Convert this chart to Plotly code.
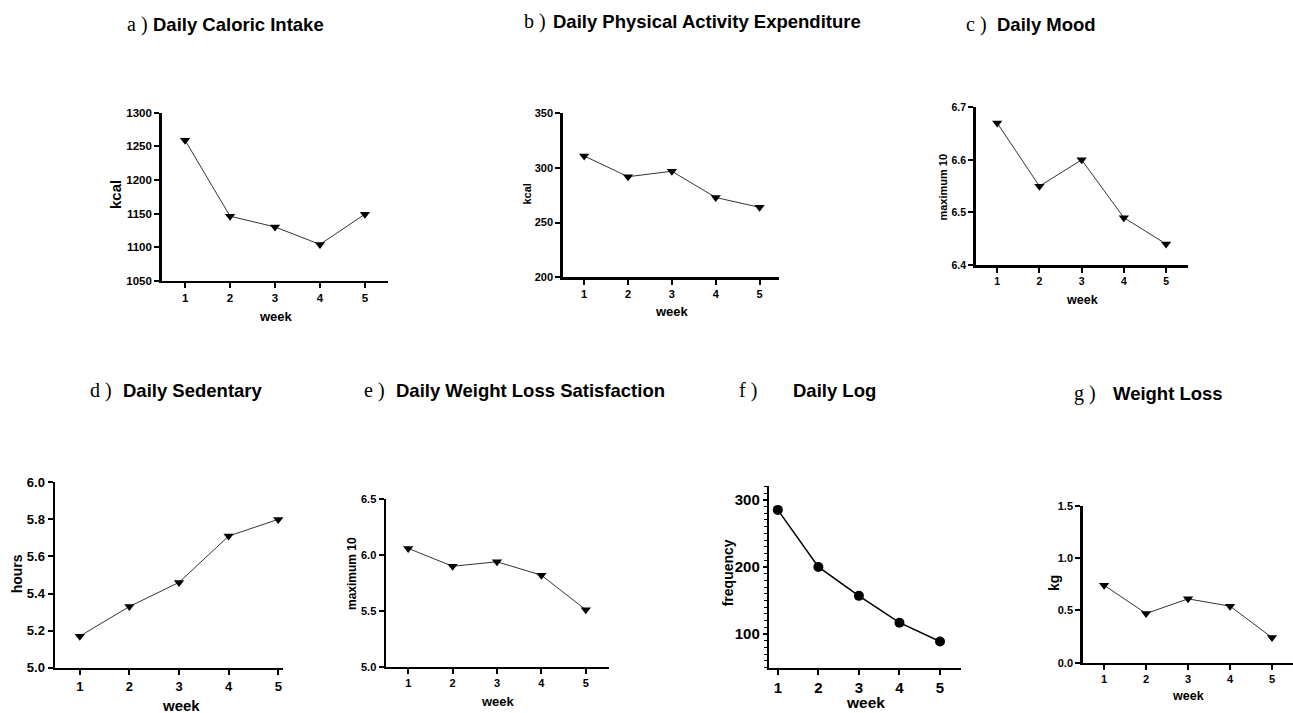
import plotly.graph_objects as go

W, H = 1293, 713

weeks = [1, 2, 3, 4, 5]
caloric_intake = [1259, 1146, 1130, 1104, 1149]
activity_expenditure = [311, 292, 297, 273, 264]
mood = [6.67, 6.55, 6.60, 6.49, 6.44]
sedentary = [5.17, 5.33, 5.46, 5.71, 5.80]
satisfaction = [6.06, 5.90, 5.94, 5.82, 5.51]
log_frequency = [285, 200, 157, 117, 89]
weight_loss = [0.74, 0.47, 0.61, 0.54, 0.24]

letters = ["a )", "b )", "c )", "d )", "e )", "f )", "g )"]
titles = ["Daily Caloric Intake", "Daily Physical Activity Expenditure", "Daily Mood",
          "Daily Sedentary", "Daily Weight Loss Satisfaction", "Daily Log", "Weight Loss"]
y_titles = ["kcal", "kcal", "maximum 10", "hours", "maximum 10", "frequency", "kg"]
x_title = "week"

series = [caloric_intake, activity_expenditure, mood, sedentary, satisfaction, log_frequency, weight_loss]

# panel layout: (x0, x1, ytop, ybottom) in pixels, x range, y range, y dtick, tickformat, tick font size
panels = [
    dict(px=(161.7, 388.3, 112.7, 280.7), xr=[0.48, 5.52], yr=[1050, 1300], dt=50, fmt="d", fs=11.5,
         ytl=(115, 195, 15), xtl=(275.7, 316.7, 13), lt=(125, 151, 24)),
    dict(px=(562.7, 779.3, 113.3, 277.3), xr=[0.51, 5.45], yr=[200, 350], dt=50, fmt="d", fs=11,
         ytl=(526.5, 194, 11), xtl=(672.3, 311.7, 13), lt=(522, 551, 22)),
    dict(px=(975.7, 1188, 107.3, 265), xr=[0.49, 5.52], yr=[6.4, 6.7], dt=0.1, fmt=".1f", fs=10.5,
         ytl=(943.3, 187.3, 11), xtl=(1081.7, 300, 12.5), lt=(964, 995, 24)),
    dict(px=(55, 282.7, 482.3, 667.7), xr=[0.5, 5.09], yr=[5.0, 6.0], dt=0.2, fmt=".1f", fs=13,
         ytl=(17.3, 574, 14), xtl=(180.7, 705, 15), lt=(88, 121, 391)),
    dict(px=(386, 609.3, 499.3, 666.7), xr=[0.5, 5.53], yr=[5.0, 6.5], dt=0.5, fmt=".1f", fs=11,
         ytl=(352, 574, 12), xtl=(497.7, 701.7, 13), lt=(362, 394, 391)),
    dict(px=(769.3, 960.7, 485.7, 667.7), xr=[0.79, 5.51], yr=[50, 321], dt=100, fmt="d", fs=15,
         ytl=(728, 573.3, 14), xtl=(865, 702, 15.5), lt=(737, 791, 390)),
    dict(px=(1082.7, 1293, 505.7, 662.7), xr=[0.49, 5.5], yr=[0.0, 1.5], dt=0.5, fmt=".1f", fs=11,
         ytl=(1053.3, 582.7, 14), xtl=(1187.7, 696, 12.5), lt=(1072, 1111, 393)),
]

fig = go.Figure()
annotations = []
layout_axes = {}

for i, (p, vals) in enumerate(zip(panels, series)):
    n = "" if i == 0 else str(i + 1)
    x0, x1, yt, yb = p["px"]
    is_log = (i == 5)
    fig.add_trace(go.Scatter(
        x=weeks, y=vals, mode="lines+markers",
        xaxis="x" + n, yaxis="y" + n,
        line=dict(color="#000000" if is_log else "#333333", width=1.5 if is_log else 1),
        marker=dict(symbol="circle" if is_log else "triangle-down",
                    size=10 if is_log else 9, color="black"),
        showlegend=False, cliponaxis=False,
    ))
    tickfont = dict(family="Liberation Sans", size=p["fs"], color="black", weight="bold")
    layout_axes["xaxis" + n] = dict(
        domain=[x0 / W, x1 / W], anchor="y" + n, range=p["xr"], automargin=False,
        tickmode="array", tickvals=weeks, ticktext=[str(w) for w in weeks],
        ticks="outside", ticklen=5, tickwidth=2, tickcolor="black",
        showline=True, linecolor="black", linewidth=2.5,
        showgrid=False, zeroline=False, tickfont=tickfont, fixedrange=True,
    )
    yax = dict(
        domain=[1 - yb / H, 1 - yt / H], anchor="x" + n, range=p["yr"], automargin=False,
        tick0=0, dtick=p["dt"], tickformat=p["fmt"],
        ticks="outside", ticklen=5, tickwidth=2, tickcolor="black",
        showline=True, linecolor="black", linewidth=2.5,
        showgrid=False, zeroline=False, tickfont=tickfont, fixedrange=True,
    )
    if is_log:
        yax["ticklen"] = 4
        yax["minor"] = dict(dtick=10, tick0=0, ticks="outside", ticklen=3,
                            tickwidth=1, tickcolor="black", showgrid=False)
    layout_axes["yaxis" + n] = yax

    # axis titles
    ax_, ay_, afs = p["ytl"]
    annotations.append(dict(
        text=y_titles[i], x=ax_ / W, y=1 - ay_ / H, xref="paper", yref="paper",
        textangle=-90, showarrow=False, xanchor="center", yanchor="middle",
        font=dict(family="Liberation Sans", size=afs, color="black", weight="bold"),
    ))
    wx, wy, wfs = p["xtl"]
    annotations.append(dict(
        text=x_title, x=wx / W, y=1 - wy / H, xref="paper", yref="paper",
        showarrow=False, xanchor="center", yanchor="middle",
        font=dict(family="Liberation Sans", size=wfs, color="black", weight="bold"),
    ))
    # panel titles
    lx, tx, ty = p["lt"]
    annotations.append(dict(
        text=letters[i], x=lx / W, y=1 - ty / H, xref="paper", yref="paper",
        showarrow=False, xanchor="left", yanchor="middle",
        font=dict(family="Liberation Serif", size=20, color="black"),
    ))
    annotations.append(dict(
        text=titles[i], x=tx / W, y=1 - ty / H, xref="paper", yref="paper",
        showarrow=False, xanchor="left", yanchor="middle",
        font=dict(family="Liberation Sans", size=18.5, color="black", weight="bold"),
    ))

fig.update_layout(
    width=W, height=H, autosize=False,
    margin=dict(l=0, r=0, t=0, b=0, pad=0, autoexpand=False),
    paper_bgcolor="white", plot_bgcolor="white",
    annotations=annotations,
    **layout_axes,
)

fig.write_html(
    "out.html",
    config={"displayModeBar": False, "staticPlot": True},
    post_script="document.body.style.margin='0';document.body.style.overflow='hidden';",
)
